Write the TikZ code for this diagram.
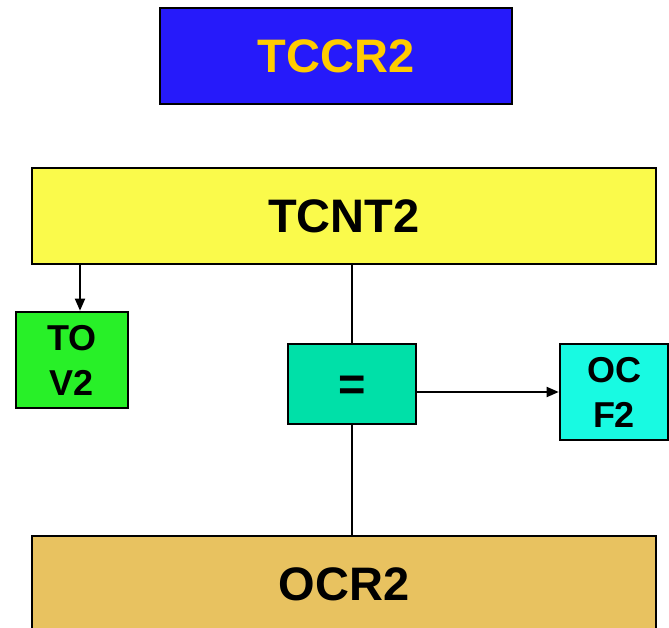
\documentclass[tikz,border=0pt]{standalone}
\usepackage{fontspec}
\setmainfont{Liberation Sans}
\usetikzlibrary{arrows.meta}
\definecolor{cblue}{RGB}{38,26,250}
\definecolor{cgold}{RGB}{255,204,0}
\definecolor{cyel}{RGB}{250,250,75}
\definecolor{cgreen}{RGB}{40,240,40}
\definecolor{ceq}{RGB}{0,224,168}
\definecolor{ccyan}{RGB}{24,250,226}
\definecolor{cocr}{RGB}{232,194,96}
\tikzset{
  box/.style={draw=black, line width=2.6pt, rectangle, inner sep=0pt, align=center, font=\bfseries},
  big/.style={font=\fontsize{47}{56}\selectfont\bfseries},
  small/.style={font=\fontsize{36}{45}\selectfont\bfseries},
  conn/.style={line width=1.8pt},
  arr/.style={conn, -{Triangle[length=12pt,width=10pt]}}
}
\begin{document}
\begin{tikzpicture}[x=1pt,y=-1pt]
\useasboundingbox (0,0) rectangle (669,628);
\clip (0,0) rectangle (669,628);
\node[box, big, fill=cblue, text=cgold, minimum width=352pt, minimum height=96pt] (tccr) at (336,56) {TCCR2};
\node[box, big, fill=cyel, minimum width=624pt, minimum height=96pt] (tcnt) at (344,216) {TCNT2};
\node[box, small, fill=cgreen, minimum width=112pt, minimum height=96pt] (tov) at (72,360) {TO\\V2};
\node[box, big, fill=ceq, minimum width=128pt, minimum height=80pt] (eq) at (352,384) {\raisebox{0pt}[\dimexpr\height+8pt\relax][\depth]{=}};
\node[box, small, fill=ccyan, minimum width=108pt, minimum height=96pt] (ocf) at (614,392) {OC\\F2};
\node[box, big, fill=cocr, minimum width=624pt, minimum height=96pt] (ocr) at (344,584) {OCR2};
\coordinate (ax) at (80,0);
\draw[arr] (tcnt.south -| ax) -- (tov.north -| ax);
\draw[conn] (tcnt.south -| eq.north) -- (eq.north);
\draw[arr] (eq.east |- ocf.west) -- (ocf.west);
\draw[conn] (eq.south) -- (eq.south |- ocr.north);
\end{tikzpicture}
\end{document}
